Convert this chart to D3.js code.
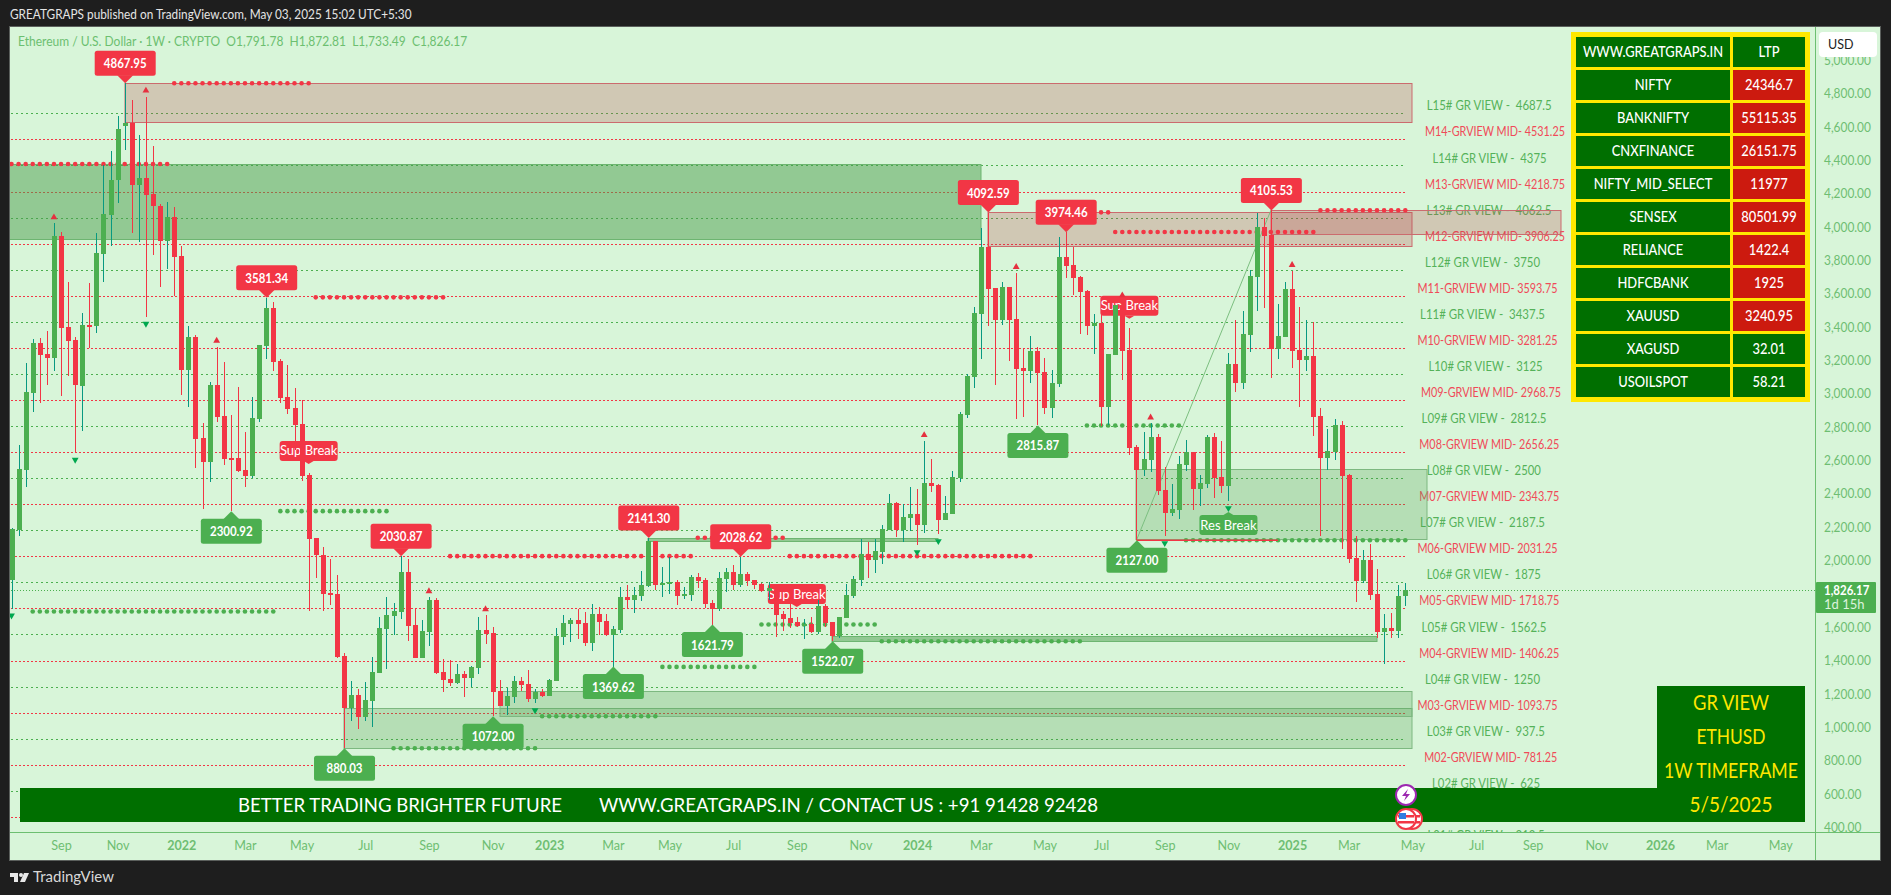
<!DOCTYPE html>
<html><head><meta charset="utf-8">
<script src="https://d3js.org/d3.v7.min.js"></script>
<style>
html,body{margin:0;padding:0;background:#1e1e1e;overflow:hidden}
svg{display:block}
text{font-family:"Lato","Noto Sans",sans-serif;white-space:pre}
</style></head><body>
<svg id="c" width="1891" height="895"></svg>
<script>
// ---- weekly candles (index = week number on chart)
const opens=[1888,2188,2548,3012,3308,3244,3222,3952,3406,3328,
3052,3418,3412,3844,4078,4288,4614,4630,4258,4300,
4204,4132,3922,4066,3832,3148,3346,2740,2596,3058,
2872,2620,2620,2548,2512,2854,3292,3520,3202,2986,
2920,2824,2518,2140,2038,1812,1804,1432,1122,1198,
1066,1162,1330,1594,1672,1696,1936,1618,1420,1576,
1768,1336,1294,1270,1324,1300,1360,1588,1570,1222,
1132,1186,1282,1264,1174,1216,1192,1282,1546,1624,
1648,1630,1510,1684,1642,1558,1588,1786,1768,1792,
1852,2122,1858,1870,1876,1798,1798,1906,1888,1750,
1714,1894,1936,1858,1924,1888,1864,1822,1828,1684,
1660,1636,1614,1624,1576,1732,1636,1552,1660,1792,
1888,2044,2008,2056,2188,2350,2188,2260,2284,2218,
2470,2458,2248,2284,2500,2878,3106,3484,3886,3640,
3448,3646,3454,3160,3142,3262,3136,2920,3064,3826,
3778,3706,3622,3412,3430,2926,3238,3538,3268,2686,
2548,2608,2746,2428,2290,2308,2578,2656,2434,2464,
2748,2506,2452,3184,3070,3358,3706,4006,3958,3274,
3346,3634,3268,3208,3232,2872,2620,2656,2818,2518,
2020,1882,2008,1804,1576,1600,1582,1791.78];
const highs=[2198,2698,3188,3332,3338,3380,4028,3974,3674,3346,
3488,3668,3968,4378,4462,4672,4867.95,4768,4558,4788,
4492,4144,4156,4126,3892,3412,3358,2828,3076,3288,
3196,2878,3046,2776,2986,3298,3581.34,3556,3214,3178,
3040,2968,2530,2140,2086,2014,1918,1450,1282,1234,
1276,1426,1666,1786,1750,2030.87,2014,1720,1648,1786,
1780,1414,1408,1384,1342,1372,1666,1678,1606,1288,
1244,1312,1306,1348,1234,1234,1294,1600,1678,1660,
1714,1696,1744,1726,1684,1612,1846,1858,1846,1942,
2141.30,2122,1966,2026,1888,1846,1918,1930,1900,1768,
1936,1960,1978,2028.62,1936,1888,1870,1876,1830,1702,
1748,1666,1654,1666,1768,1748,1636,1666,1864,1912,
2134,2116,2134,2218,2404,2356,2344,2446,2434,2722,
2614,2464,2392,2542,2896,3124,3526,4000,4092.59,3640,
3676,3646,3730,3280,3352,3286,3220,3148,3946,3974.46,
3886,3712,3628,3484,3478,3244,3538,3560,3400,2698,
2778,2828,2762,2566,2464,2632,2728,2658,2518,2758,
2768,2722,3250,3448,3502,3748,4090,4060,4105.53,3544,
3676,3742,3526,3448,3436,2920,2794,2854,2842,2524,
2152,2068,2104,1954,1684,1690,1858,1872.81];
const lows=[1718,2152,2448,2898,2952,3058,3142,2992,3114,2652,
2784,3278,3372,3678,3894,4152,4468,3972,3918,3468,
3838,3648,3754,3592,2998,2928,2560,2314,2476,2836,
2578,2300.92,2536,2446,2500,2836,3214,3142,2950,2884,
2668,2482,1704,1900,1704,1738,1420,880.03,1042,994,
1042,1006,1330,1354,1558,1654,1522,1420,1420,1492,
1324,1216,1252,1264,1186,1246,1324,1504,1072,1132,
1078,1150,1222,1156,1150,1186,1192,1282,1498,1516,
1534,1492,1462,1558,1552,1369.62,1570,1714,1690,1762,
1846,1828,1786,1804,1738,1774,1762,1840,1720,1621.79,
1702,1816,1828,1846,1852,1834,1816,1768,1548,1582,
1600,1606,1534,1570,1564,1606,1522.07,1540,1660,1780,
1852,1900,1930,1984,2188,2146,2116,2182,2098,2170,
2416,2164,2248,2284,2476,2860,3040,3214,3412,3058,
3418,3202,2854,2866,3070,2815.87,2884,2860,3046,3700,
3598,3364,3358,3244,2812,2818,3238,3088,2638,2127.00,
2512,2536,2398,2152,2272,2254,2542,2308,2332,2440,
2380,2410,2362,3016,3034,3256,3502,3520,3100,3214,
3346,3160,2926,3142,2752,2152,2548,2608,2076,1990,
1756,1870,1768,1540,1384,1540,1540,1733.49];
const closes=[2192,2554,3016,3308,3240,3222,3952,3402,3324,3058,
3418,3414,3848,4084,4288,4594,4630,4258,4300,4198,
4132,3922,4066,3826,3148,3346,2734,2596,3058,2866,
2614,2608,2542,2512,2860,3298,3520,3196,2980,2914,
2818,2512,2134,2038,1804,1800,1426,1122,1198,1066,
1168,1336,1600,1678,1702,1936,1612,1420,1582,1768,
1330,1288,1270,1324,1300,1366,1588,1564,1216,1132,
1192,1282,1258,1174,1216,1192,1288,1552,1630,1648,
1624,1510,1684,1636,1558,1594,1786,1768,1798,1858,
2122,1858,1870,1876,1792,1804,1906,1882,1744,1714,
1900,1936,1858,1924,1882,1858,1822,1840,1678,1654,
1630,1612,1626,1576,1732,1630,1552,1666,1798,1894,
2044,2008,2062,2194,2350,2188,2266,2284,2218,2470,
2452,2248,2290,2506,2884,3112,3490,3886,3634,3448,
3646,3448,3154,3142,3262,3130,2920,3070,3826,3772,
3700,3616,3412,3430,2926,3244,3538,3262,2680,2548,
2614,2746,2422,2290,2314,2584,2656,2434,2470,2748,
2500,2452,3184,3070,3364,3712,4006,3952,3274,3352,
3634,3262,3208,3232,2866,2620,2662,2818,2512,2014,
1882,2008,1798,1576,1600,1582,1792,1826.17];

// ---- axes
const priceTicks=[400,600,800,1000,1200,1400,1600,2000,2200,2400,2600,2800,3000,3200,3400,3600,3800,4000,4200,4400,4600,4800,5000];
const timeTickWeeks=[7,15,24,33,41,50,59,68,76,85,93,102,111,120,128,137,146,154,163,172,181,189,198,207,215,224,233,241,250];
const timeTickLabels=["Sep","Nov","2022","Mar","May","Jul","Sep","Nov","2023","Mar","May","Jul","Sep","Nov","2024","Mar","May","Jul","Sep","Nov","2025","Mar","May","Jul","Sep","Nov","2026","Mar","May"];

// ---- GR levels
const levelValues=[312.5,468.75,625,781.25,937.5,1093.75,1250,1406.25,1562.5,1718.75,1875,2031.25,2187.5,2343.75,2500,2656.25,2812.5,2968.75,3125,3281.25,3437.5,3593.75,3750,3906.25,4062.5,4218.75,4375,4531.25,4687.5];
const levelNames=["L01# GR VIEW -  ","M01-GRVIEW MID- ","L02# GR VIEW -  ","M02-GRVIEW MID- ","L03# GR VIEW -  ","M03-GRVIEW MID- ","L04# GR VIEW -  ","M04-GRVIEW MID- ","L05# GR VIEW -  ","M05-GRVIEW MID- ","L06# GR VIEW -  ","M06-GRVIEW MID- ","L07# GR VIEW -  ","M07-GRVIEW MID- ","L08# GR VIEW -  ","M08-GRVIEW MID- ","L09# GR VIEW -  ","M09-GRVIEW MID- ","L10# GR VIEW -  ","M10-GRVIEW MID- ","L11# GR VIEW -  ","M11-GRVIEW MID- ","L12# GR VIEW -  ","M12-GRVIEW MID- ","L13# GR VIEW -  ","M13-GRVIEW MID- ","L14# GR VIEW -  ","M14-GRVIEW MID- ","L15# GR VIEW -  "];
// layout only: horizontal centre and width of each level's caption
const levelLabelCx=[1486,1487,1486,1490.7,1485.8,1487.5,1482.5,1489.3,1484,1489.3,1483.8,1487.5,1482.5,1489.3,1483.8,1489.3,1484,1491,1485.5,1487.5,1482.5,1487.5,1482.5,1495,1489,1495,1489.5,1495,1489.2];
const levelLabelW=[117,140,108,133,118,140,115,140,125,140,114,140,125,140,114,140,125,140,114,140,125,140,115,140,125,140,114,140,125];

// ---- zones: [first week, last week, top price, bottom price]
const tanZones=[[16,198,4867.95,4634],[138,198,4094,3890],[178,219,4105.53,3962]];
const darkGreenZones=[[-1,137,4382,3932],[90,131,2141.3,2122],[116,193,1556,1524]];
const lightGreenZones=[[47,198,1124,880.03],[69,198,1222,1072],[159,200,2552,2132]];

// ---- pivot dots: [first week, last week, price]
const redDotRows=[[23,42,4867.95],[0,22,4384],[43,61,3584],[62,96,2032],[110,144,2032],[97,109,2142],[149,155,4094],[156,184,3976],[185,197,4106]];
const greenDotRows=[[3,37,1700],[38,53,2302],[54,74,880],[75,91,1072],[92,105,1368],[106,122,1622],[123,151,1522],[152,165,2816],[166,197,2127]];

// ---- markers
const upMarkWeeks=[6,19,29,59,67,129,142,157,161,181];
const downMarkWeeks=[0,9,19,74,128,131,163,172];
const highLabelWeeks=[16,36,55,90,103,138,149,178];
const lowLabelWeeks=[31,47,68,85,99,116,145,159];
const supBreakWeeks=[42,111,158];
const supBreakPrices=[2663,1805,3533];
const resBreakWeek=172, resBreakPrice=2219;
const triggerLine=[159,178,2127,4105.53];
const redLine=[159,179,2127];

// ---- table
const tableSymbols=["NIFTY","BANKNIFTY","CNXFINANCE","NIFTY_MID_SELECT","SENSEX","RELIANCE","HDFCBANK","XAUUSD","XAGUSD","USOILSPOT"];
const tableValues=["24346.7","55115.35","26151.75","11977","80501.99","1422.4","1925","3240.95","32.01","58.21"];
const tableIsDown=[1,1,1,1,1,1,1,1,0,0];
const boxLines=["GR VIEW","ETHUSD","1W TIMEFRAME","5/5/2025"];
const boxLineW=[76,69,134,83];

// ---- colours
const RED="#F23645",GREEN="#4CAF50",TEAL="#089981",BG="#D8F5D9",AXIS="#6EBE72",DKG="#006F00";

const svg=d3.select("#c");
const x=d3.scaleLinear().domain([0,197]).range([11.5,1405.3]);
const y=d3.scaleLinear().domain([4800,400]).range([94.6,828.3]);
const px=w=>Math.round(x(w));
const py=p=>Math.round(y(p));
const weeks=d3.range(opens.length);

// squeeze a text horizontally, to follow the narrower face of the original
function squeeze(sel,k){
 sel.each(function(){
  this.setAttribute("textLength",(this.getComputedTextLength()*k).toFixed(1));
  this.setAttribute("lengthAdjust","spacingAndGlyphs");
 });
 return sel;
}
function fitTo(sel,wf){
 sel.each(function(d,i){
  this.setAttribute("textLength",wf(d,i));
  this.setAttribute("lengthAdjust","spacingAndGlyphs");
 });
 return sel;
}

// frame
svg.append("rect").attr("x",10).attr("y",27).attr("width",1870).attr("height",833).attr("fill",BG);
svg.append("rect").attr("x",9.5).attr("y",26.5).attr("width",1871).attr("height",834).attr("fill","none").attr("stroke","#5b5f5c");
const defs=svg.append("defs");
defs.append("clipPath").attr("id","plot").append("rect").attr("x",10).attr("y",28).attr("width",1805).attr("height",804);
const plot=svg.append("g").attr("clip-path","url(#plot)");

// header & footer
squeeze(svg.append("text").attr("x",10).attr("y",19).attr("fill","#e4e4e4").attr("font-size",13).text("GREATGRAPS published on TradingView.com, May 03, 2025 15:02 UTC+5:30"),.907);
const logo=svg.append("g").attr("fill","#e8e8e8");
logo.append("path").attr("d","M10 873h8v9h-4v-5h-4z");
logo.append("circle").attr("cx",21).attr("cy",875).attr("r",2);
logo.append("path").attr("d","M24 873h5l-4 9h-5z");
svg.append("text").attr("x",33).attr("y",882).attr("fill","#d8d8d8").attr("font-size",15).text("TradingView");

// level lines
plot.append("g").selectAll("line").data(levelValues).join("line")
 .attr("x1",11).attr("x2",1405).attr("y1",d=>py(d)+.5).attr("y2",d=>py(d)+.5)
 .attr("stroke",(d,i)=>levelNames[i][0]==="M"?RED:GREEN).attr("stroke-width",1)
 .attr("stroke-dasharray",(d,i)=>levelNames[i][0]==="M"?"2 2":"2 3");

// level captions
fitTo(plot.append("g").selectAll("text").data(levelValues).join("text")
 .attr("x",(d,i)=>levelLabelCx[i]).attr("y",d=>y(d)-7.5).attr("dy",".35em").attr("text-anchor","middle")
 .attr("font-size",13).attr("fill",(d,i)=>levelNames[i][0]==="M"?"#F04A58":"#55B259")
 .text((d,i)=>levelNames[i]+d),(d,i)=>levelLabelW[i]);

// zones
function zones(rows,fill,stroke){
 plot.append("g").selectAll("rect").data(rows).join("rect")
  .attr("x",d=>px(d[0])).attr("width",d=>px(d[1])-px(d[0]))
  .attr("y",d=>py(d[2])+.5).attr("height",d=>py(d[3])-py(d[2]))
  .attr("fill",fill).attr("stroke",stroke);
}
zones(tanZones,"rgba(184,69,73,.25)","#CB6B6E");
zones(darkGreenZones,"rgba(76,157,77,.5)","#6DB571");
zones(lightGreenZones,"rgba(76,157,77,.25)","#7DB880");

// current price line
plot.append("line").attr("x1",11).attr("x2",1815).attr("y1",py(closes[197])+.5).attr("y2",py(closes[197])+.5)
 .attr("stroke",GREEN).attr("stroke-dasharray","1 2");

// dots
function dots(rows,color){
 rows.forEach(r=>{
  plot.append("g").selectAll("circle").data(d3.range(r[0],r[1]+1)).join("circle")
   .attr("cx",w=>x(w)).attr("cy",y(r[2])).attr("r",2.3).attr("fill",color);
 });
}
dots(redDotRows,RED); dots(greenDotRows,GREEN);

// trend line + red horizontal
plot.append("line").attr("x1",x(triggerLine[0])).attr("x2",x(triggerLine[1])).attr("y1",y(triggerLine[2])).attr("y2",y(triggerLine[3])).attr("stroke","#7CBF80").attr("stroke-width",1);
plot.append("line").attr("x1",x(redLine[0])).attr("x2",x(redLine[1])).attr("y1",y(redLine[2])).attr("y2",y(redLine[2])).attr("stroke",RED).attr("stroke-width",1.5);

// Break labels (beneath candles)
function breakLabel(w,price,txt,fill,up){
 const cx=x(w),cy=y(price),g=plot.append("g");
 g.append("rect").attr("x",cx-29).attr("y",cy-10).attr("width",58).attr("height",20).attr("rx",3).attr("fill",fill);
 const tip=up?[[cx-5,cy-10],[cx+5,cy-10],[cx,cy-13]]:[[cx-5,cy+10],[cx+5,cy+10],[cx,cy+13]];
 g.append("path").attr("d",d3.line()(tip)+"Z").attr("fill",fill);
 g.append("text").attr("x",cx).attr("y",cy).attr("dy",".35em").attr("text-anchor","middle").attr("font-size",13).attr("fill","#fff").text(txt);
}
supBreakWeeks.forEach((w,i)=>breakLabel(w,supBreakPrices[i],"Sup Break",RED,false));
breakLabel(resBreakWeek,resBreakPrice,"Res Break",GREEN,true);

// candles
const cg=plot.append("g").attr("shape-rendering","crispEdges");
cg.selectAll("line").data(weeks).join("line")
 .attr("x1",w=>px(w)+.5).attr("x2",w=>px(w)+.5).attr("y1",w=>py(highs[w])).attr("y2",w=>py(lows[w]))
 .attr("stroke",w=>closes[w]>=opens[w]?TEAL:RED);
cg.selectAll("rect").data(weeks).join("rect")
 .attr("x",w=>px(w)-2).attr("width",5)
 .attr("y",w=>py(Math.max(opens[w],closes[w])))
 .attr("height",w=>Math.max(2,py(Math.min(opens[w],closes[w]))-py(Math.max(opens[w],closes[w]))))
 .attr("fill",w=>closes[w]>=opens[w]?GREEN:RED);

// triangles
const tri=d3.symbol().type(d3.symbolTriangle).size(20);
plot.append("g").selectAll("path.u").data(upMarkWeeks).join("path").attr("class","u").attr("d",tri)
 .attr("transform",w=>`translate(${x(w)},${y(highs[w])-6})`).attr("fill","#E5303F");
plot.append("g").selectAll("path.d").data(downMarkWeeks).join("path").attr("class","d").attr("d",tri)
 .attr("transform",w=>`translate(${x(w)},${y(lows[w])+7}) rotate(180)`).attr("fill","#00A84F");

// value labels
function valueLabel(w,price,fill,above){
 const cx=x(w)+.5,ty=y(price),g=plot.append("g");
 const ry=above?ty-32.5:ty+7.5;
 g.append("rect").attr("x",cx-30.5).attr("y",ry).attr("width",61).attr("height",25).attr("rx",2.5).attr("fill",fill);
 g.append("path").attr("d",d3.line()(above?[[cx-8,ty-8],[cx+8,ty-8],[cx,ty]]:[[cx-8,ty+8],[cx+8,ty+8],[cx,ty]])+"Z").attr("fill",fill);
 squeeze(g.append("text").attr("x",cx).attr("y",ry+12.5).attr("dy",".36em").attr("text-anchor","middle").attr("font-size",14).attr("font-weight",700).attr("fill","#fff").text(price.toFixed(2)),.82);
}
highLabelWeeks.forEach(w=>valueLabel(w,highs[w],RED,true));
lowLabelWeeks.forEach(w=>valueLabel(w,lows[w],GREEN,false));

// legend
squeeze(plot.append("text").attr("x",18).attr("y",46).attr("font-size",13.5).attr("fill","#6CBF70")
 .text("Ethereum / U.S. Dollar · 1W · CRYPTO  O1,791.78  H1,872.81  L1,733.49  C1,826.17"),.89);

// Bottom banner
svg.append("rect").attr("x",20).attr("y",788).attr("width",1785).attr("height",34).attr("fill",DKG);
svg.append("rect").attr("x",1657).attr("y",686).attr("width",148).attr("height",136).attr("fill",DKG);
fitTo(svg.append("text").attr("x",238).attr("y",805).attr("dy",".35em").attr("font-size",20).attr("fill","#fff").text("BETTER TRADING BRIGHTER FUTURE"),()=>324);
fitTo(svg.append("text").attr("x",599).attr("y",805).attr("dy",".35em").attr("font-size",20).attr("fill","#fff").text("WWW.GREATGRAPS.IN / CONTACT US : +91 91428 92428"),()=>499);
fitTo(svg.append("g").selectAll("text").data(boxLines).join("text")
 .attr("x",1731).attr("y",(d,i)=>703+34*i).attr("dy",".35em").attr("text-anchor","middle").attr("font-size",21).attr("fill","#FFE600").text(d=>d),(d,i)=>boxLineW[i]);

// event icons (on top of the banner, cut at the time axis)
defs.append("clipPath").attr("id","iconclip").append("rect").attr("x",1380).attr("y",770).attr("width",60).attr("height",62);
const icons=svg.append("g").attr("clip-path","url(#iconclip)");
icons.append("circle").attr("cx",1406).attr("cy",795).attr("r",10).attr("fill","#fff").attr("stroke","#9C27B0").attr("stroke-width",2);
icons.append("path").attr("d","M1408 789l-6 7h4l-2 5 6-7h-4z").attr("fill","#9C27B0");
[1412,1406].forEach(cx=>{
 icons.append("circle").attr("cx",cx).attr("cy",819).attr("r",10).attr("fill","#fff").attr("stroke","#F23645").attr("stroke-width",2);
 [815,821].forEach(sy=>icons.append("rect").attr("x",cx-8).attr("y",sy).attr("width",16).attr("height",2.5).attr("fill","#F23645"));
});
icons.append("rect").attr("x",1399).attr("y",813).attr("width",7).attr("height",6).attr("fill","#2E7DE0");

// table
const T=svg.append("g");
T.append("rect").attr("x",1571).attr("y",32).attr("width",239).attr("height",370).attr("fill","#FFE800");
const rows=[["WWW.GREATGRAPS.IN","LTP",0]].concat(tableSymbols.map((s,i)=>[s,tableValues[i],tableIsDown[i]]));
const rowY=d3.scaleLinear().domain([0,1]).range([37,70]);
rows.forEach((r,i)=>{
 const ry=rowY(i);
 T.append("rect").attr("x",1576).attr("y",ry).attr("width",154).attr("height",30).attr("fill",DKG);
 T.append("rect").attr("x",1733).attr("y",ry).attr("width",72).attr("height",30).attr("fill",r[2]?"#CC1A0F":DKG);
 squeeze(T.append("text").attr("x",1653).attr("y",ry+14.5).attr("dy",".36em").attr("text-anchor","middle").attr("font-size",15).attr("font-weight",500).attr("fill","#fff").text(r[0]),.86);
 squeeze(T.append("text").attr("x",1769).attr("y",ry+14.5).attr("dy",".36em").attr("text-anchor","middle").attr("font-size",15).attr("font-weight",500).attr("fill","#fff").text(r[1]),.86);
});

// price axis
defs.append("clipPath").attr("id","pa").append("rect").attr("x",1815).attr("y",28).attr("width",65).attr("height",804);
const pAxis=svg.append("g").attr("clip-path","url(#pa)").append("g").attr("transform","translate(1815,0)")
 .call(d3.axisRight(y).tickValues(priceTicks).tickSize(0).tickPadding(9).tickFormat(d3.format(",.2f")));
pAxis.select(".domain").remove();
squeeze(pAxis.selectAll("text").attr("y",-1.3).attr("font-size",14).attr("font-family",'"Lato","Noto Sans",sans-serif').attr("fill",AXIS),.85);
svg.append("line").attr("x1",1815.5).attr("x2",1815.5).attr("y1",27).attr("y2",860).attr("stroke","#6CBF70");
svg.append("line").attr("x1",10).attr("x2",1880).attr("y1",832.5).attr("y2",832.5).attr("stroke","#6CBF70");

// USD box
svg.append("rect").attr("x",1819).attr("y",32).attr("width",58).attr("height",25).attr("rx",4).attr("fill","#fff");
svg.append("text").attr("x",1828).attr("y",44.5).attr("dy",".35em").attr("font-size",12.5).attr("fill","#222").text("USD");

// last price tag
svg.append("rect").attr("x",1816).attr("y",582).attr("width",60).attr("height",31).attr("rx",1).attr("fill",GREEN);
squeeze(svg.append("text").attr("x",1824).attr("y",590).attr("dy",".35em").attr("font-size",14).attr("font-weight",700).attr("fill","#fff").text(d3.format(",.2f")(closes[197])),.82);
svg.append("text").attr("x",1824).attr("y",604).attr("dy",".35em").attr("font-size",13).attr("fill","#DDF3DE").text("1d 15h");

// time axis
const tAxis=svg.append("g").attr("transform","translate(0,832)")
 .call(d3.axisBottom(x).tickValues(timeTickWeeks).tickSize(0).tickPadding(8).tickFormat((d,i)=>timeTickLabels[i]));
tAxis.select(".domain").remove();
squeeze(tAxis.selectAll("text").attr("font-size",14).attr("font-family",'"Lato","Noto Sans",sans-serif').attr("fill",AXIS)
 .attr("font-weight",(d,i)=>/^\d/.test(timeTickLabels[i])?700:400),.9);
</script></body></html>
